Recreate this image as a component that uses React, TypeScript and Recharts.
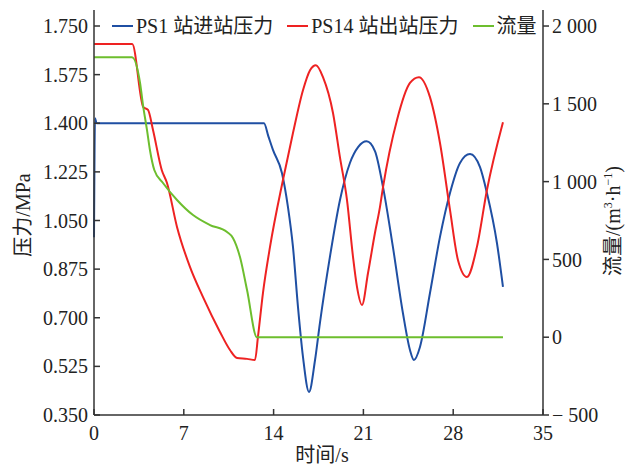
import React from 'react';
import { LineChart, Line, XAxis, YAxis, Legend } from 'recharts';

// PS1 station inlet pressure (MPa)
const ps1Time = [0, 0.08, 0.2, 13.25, 13.6, 13.95, 14.65, 15.12, 15.51, 15.9, 16.29, 16.76, 17.23, 17.61, 18.39, 19.17, 19.95, 20.6, 21.25, 21.9, 22.53, 23.3, 24.08, 24.63, 24.94, 25.41, 26.19, 26.97, 27.75, 28.53, 29.31, 30.09, 30.63, 31.41, 31.88];
const ps1Pressure = [0.99, 1.418, 1.4, 1.4, 1.352, 1.304, 1.221, 1.098, 0.955, 0.739, 0.559, 0.433, 0.548, 0.681, 0.919, 1.123, 1.257, 1.315, 1.335, 1.3, 1.17, 0.955, 0.717, 0.584, 0.548, 0.595, 0.789, 0.991, 1.149, 1.257, 1.289, 1.242, 1.149, 0.969, 0.811];

// PS14 station outlet pressure (MPa)
const ps14Time = [0, 2.98, 3.84, 4.21, 4.6, 5.28, 5.69, 6.47, 7.48, 8.49, 9.82, 10.6, 11.15, 11.93, 12.55, 12.78, 13.17, 13.72, 14.73, 15.51, 16.29, 16.84, 17.3, 17.85, 18.63, 19.17, 19.72, 20.19, 20.5, 20.89, 21.36, 21.9, 22.29, 22.53, 23.62, 24.63, 25.33, 26.19, 26.97, 27.75, 28.37, 29.07, 29.85, 30.63, 31.88];
const ps14Pressure = [1.685, 1.685, 1.458, 1.448, 1.376, 1.232, 1.185, 1.027, 0.883, 0.775, 0.649, 0.584, 0.555, 0.552, 0.548, 0.631, 0.789, 0.955, 1.196, 1.365, 1.519, 1.591, 1.609, 1.566, 1.437, 1.278, 1.124, 0.919, 0.811, 0.746, 0.861, 1.005, 1.098, 1.17, 1.412, 1.545, 1.566, 1.494, 1.329, 1.088, 0.908, 0.847, 0.955, 1.16, 1.404];

// flow rate (m3/h)
const flowTime = [0, 2.96, 3.59, 3.82, 4.13, 4.36, 4.7, 5.38, 6.47, 7.72, 9.04, 10.37, 10.83, 11.38, 11.93, 12.7, 31.88];
const flowRate = [1800, 1800, 1634, 1492, 1332, 1203, 1075, 991, 882, 785, 721, 676, 638, 515, 303, 0, 0];

const timeTicks = [0, 7, 14, 21, 28, 35];
const pressureTicks = [0.35, 0.525, 0.7, 0.875, 1.05, 1.225, 1.4, 1.575, 1.75];
const flowTicks = [-500, 0, 500, 1000, 1500, 2000];

const ps1Data = ps1Time.map((t, i) => ({ t, v: ps1Pressure[i] }));
const ps14Data = ps14Time.map((t, i) => ({ t, v: ps14Pressure[i] }));
const flowData = flowTime.map((t, i) => ({ t, v: flowRate[i] }));

const FONT = '"Liberation Serif", "Times New Roman", "Noto Sans CJK SC", serif';
const AXIS = '#333';

const legendItems = [
  { label: 'PS1 站进站压力', color: '#1f4fa3' },
  { label: 'PS14 站出站压力', color: '#ee2222' },
  { label: '流量', color: '#6dbe2e' },
];

const renderLegend = () => (
  <div style={{ display: 'flex', fontFamily: FONT, fontSize: 20, lineHeight: '24px', color: '#222' }}>
    {legendItems.map((item) => (
      <div key={item.label} style={{ display: 'flex', alignItems: 'center', marginRight: 14 }}>
        <span style={{ width: 21, height: 2, background: item.color, marginRight: 3, display: 'inline-block' }} />
        <span>{item.label}</span>
      </div>
    ))}
  </div>
);

const fmtFlow = (v: number) => {
  if (v < 0) return '\u2212 ' + Math.abs(v);
  if (v >= 1000) return `${Math.floor(v / 1000)} ${String(v % 1000).padStart(3, '0')}`;
  return String(v);
};

const tickStyle = { fontFamily: FONT, fontSize: 20, fill: '#222' };

export default function App() {
  return (
    <div style={{ width: 633, height: 468 }}>
      <style>{`body{margin:0}`}</style>
      <LineChart width={633} height={468} margin={{ top: 10, right: 0, bottom: 0, left: 0 }}>
        <XAxis
          dataKey="t"
          type="number"
          domain={[0, 35]}
          ticks={timeTicks}
          tickSize={-6}
          tickMargin={17}
          height={53}
          stroke={AXIS}
          strokeWidth={1.5}
          tick={tickStyle}
          allowDuplicatedCategory={false}
          label={{
            content: () => (
              <text x={322} y={462} textAnchor="middle" style={{ fontFamily: FONT, fontSize: 20, fill: '#222' }}>
                时间/s
              </text>
            ),
          }}
        />
        <YAxis
          yAxisId="p"
          orientation="left"
          width={94}
          domain={[0.35, 1.8076]}
          ticks={pressureTicks}
          tickFormatter={(v: number) => v.toFixed(3)}
          tickSize={-6}
          tickMargin={12}
          stroke={AXIS}
          strokeWidth={1.5}
          tick={tickStyle}
          label={{
            content: () => (
              <text x={30} y={215} transform="rotate(-90 30 215)" textAnchor="middle" style={{ fontFamily: FONT, fontSize: 20, fill: '#222' }}>
                压力/MPa
              </text>
            ),
          }}
        />
        <YAxis
          yAxisId="q"
          orientation="right"
          width={90}
          domain={[-500, 2103]}
          ticks={flowTicks}
          tickFormatter={fmtFlow}
          tickSize={6}
          tickMargin={3}
          stroke={AXIS}
          strokeWidth={1.5}
          tick={tickStyle}
          label={{
            content: () => (
              <text x={620} y={221} transform="rotate(-90 620 221)" textAnchor="middle" style={{ fontFamily: FONT, fontSize: 20, fill: '#222' }}>
                流量/(m<tspan dy={-8} fontSize={12}>3</tspan>
                <tspan dy={8}>·h</tspan>
                <tspan dy={-8} fontSize={12}>−1</tspan>
                <tspan dy={8}>)</tspan>
              </text>
            ),
          }}
        />
        <Legend
          layout="vertical"
          align="center"
          verticalAlign="middle"
          content={renderLegend}
          wrapperStyle={{ top: 14, left: 112, width: 'auto' }}
        />
        <Line yAxisId="p" data={ps1Data} dataKey="v" type="monotone" stroke="#1f4fa3" strokeWidth={2} dot={false} isAnimationActive={false} />
        <Line yAxisId="p" data={ps14Data} dataKey="v" type="monotone" stroke="#ee2222" strokeWidth={2} dot={false} isAnimationActive={false} />
        <Line yAxisId="q" data={flowData} dataKey="v" type="monotone" stroke="#6dbe2e" strokeWidth={2} dot={false} isAnimationActive={false} />
      </LineChart>
    </div>
  );
}
